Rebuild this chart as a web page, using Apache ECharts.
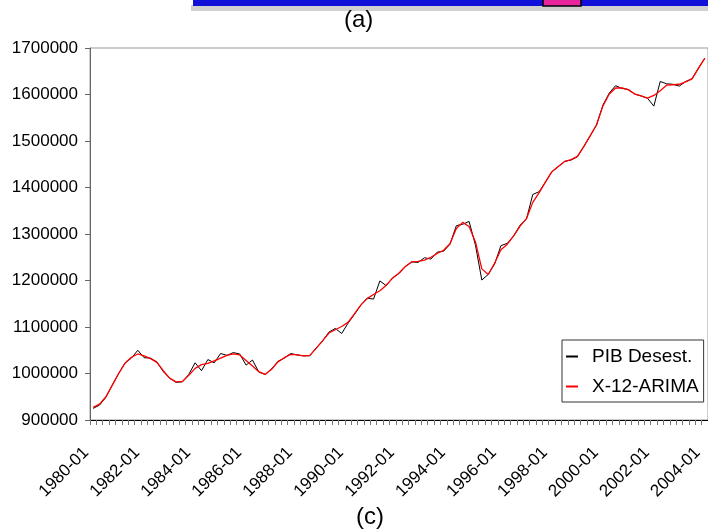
<!DOCTYPE html>
<html>
<head>
<meta charset="utf-8">
<script src="https://cdn.jsdelivr.net/npm/echarts@6/dist/echarts.min.js"></script>
<style>
  html, body { margin: 0; padding: 0; background: #fff; }
  #chart { width: 708px; height: 532px; }
</style>
</head>
<body>
<div id="chart"></div>
<script>
// Quarterly periods, 1980-01 .. 2004-01
const firstYear = 1980;
const lastYear = 2004;
const months = ['01', '04', '07', '10'];
const periods = [];
for (let y = firstYear; y <= lastYear; y++) {
  for (const m of months) {
    if (y === lastYear && m !== '01') break;
    periods.push(y + '-' + m);
  }
}

// Seasonally adjusted GDP (PIB desestacionalizado)
const pibDesest = [
  925000, 932000, 949000, 975000, 1000000, 1023000, 1033000, 1050000,
  1034000, 1033000, 1025000, 1004000, 990000, 981000, 982000, 998000,
  1023000, 1006000, 1030000, 1023000, 1043000, 1039000, 1045000, 1042000,
  1018000, 1029000, 1003000, 998000, 1010000, 1026000, 1033000, 1043000,
  1040000, 1038000, 1038000, 1055000, 1070000, 1089000, 1097000, 1086000,
  1108000, 1127000, 1147000, 1162000, 1160000, 1199000, 1189000, 1206000,
  1215000, 1230000, 1240000, 1239000, 1249000, 1246000, 1261000, 1263000,
  1278000, 1318000, 1321000, 1327000, 1276000, 1201000, 1213000, 1235000,
  1275000, 1280000, 1296000, 1319000, 1332000, 1385000, 1391000, 1412000,
  1434000, 1445000, 1456000, 1459000, 1466000, 1488000, 1511000, 1534000,
  1577000, 1603000, 1619000, 1613000, 1611000, 1601000, 1597000, 1592000,
  1575000, 1628000, 1623000, 1622000, 1618000, 1628000, 1633000, 1657000,
  1678000
];

// X-12-ARIMA trend-cycle
const x12Arima = [
  927000, 934000, 950000, 975000, 1000000, 1022000, 1035000, 1042000,
  1038000, 1032000, 1024000, 1006000, 990000, 982000, 983000, 996000,
  1011000, 1019000, 1022000, 1027000, 1033000, 1039000, 1042000, 1040000,
  1028000, 1016000, 1004000, 998000, 1009000, 1025000, 1034000, 1041000,
  1040000, 1038000, 1039000, 1054000, 1070000, 1087000, 1094000, 1101000,
  1110000, 1128000, 1147000, 1161000, 1170000, 1178000, 1190000, 1205000,
  1216000, 1230000, 1240000, 1241000, 1244000, 1250000, 1258000, 1265000,
  1279000, 1312000, 1325000, 1316000, 1283000, 1225000, 1213000, 1237000,
  1266000, 1278000, 1296000, 1317000, 1333000, 1368000, 1389000, 1412000,
  1434000, 1445000, 1456000, 1460000, 1467000, 1488000, 1511000, 1535000,
  1575000, 1601000, 1614000, 1614000, 1610000, 1601000, 1597000, 1592000,
  1598000, 1608000, 1620000, 1621000, 1622000, 1627000, 1634000, 1656000,
  1678000
];

const seriesNames = ['PIB Desest.', 'X-12-ARIMA'];
const yTicks = { min: 900000, max: 1700000, step: 100000 };

const FONT = '"Liberation Sans", Arial, sans-serif';
const chart = echarts.init(document.getElementById('chart'), null, { renderer: 'canvas' });

chart.setOption({
  animation: false,
  backgroundColor: '#ffffff',
  textStyle: { fontFamily: FONT },
  grid: {
    left: 90, top: 48, width: 620, height: 372,
    show: true, borderColor: '#999', borderWidth: 1, backgroundColor: 'transparent'
  },
  legend: {
    orient: 'vertical',
    left: 562, top: 340,
    padding: [7, 5, 6, 4],
    itemGap: 11,
    itemWidth: 12, itemHeight: 2,
    icon: 'rect',
    borderColor: '#333', borderWidth: 1,
    backgroundColor: '#fff',
    textStyle: { fontSize: 19, color: '#000', fontFamily: FONT, padding: [0, 0, 0, 9] },
    data: seriesNames
  },
  xAxis: {
    type: 'category',
    data: periods,
    boundaryGap: true,
    axisLine: { lineStyle: { color: '#000', width: 1 } },
    axisTick: { show: true, interval: 0, length: 5, lineStyle: { color: '#777' } },
    axisLabel: {
      interval: 7, rotate: 45, fontSize: 17, color: '#000', margin: 23,
      padding: [0, 10, 0, 0], fontFamily: FONT
    },
    splitLine: { show: false }
  },
  yAxis: {
    type: 'value',
    min: yTicks.min, max: yTicks.max, interval: yTicks.step,
    axisLine: { show: true, lineStyle: { color: '#666', width: 1 } },
    axisTick: { show: true, length: 5, lineStyle: { color: '#666' } },
    axisLabel: {
      fontSize: 17, color: '#000', margin: 12, fontFamily: FONT,
      formatter: (v) => String(v)
    },
    splitLine: { show: false }
  },
  series: [
    {
      name: seriesNames[0], type: 'line', data: pibDesest,
      showSymbol: false, symbol: 'none',
      lineStyle: { color: '#000', width: 1 }, itemStyle: { color: '#000' }
    },
    {
      name: seriesNames[1], type: 'line', data: x12Arima,
      showSymbol: false, symbol: 'none',
      lineStyle: { color: '#ff0000', width: 1.3 }, itemStyle: { color: '#ff0000' }
    }
  ],
  graphic: [
    // strip of the panel above: shadow, bar and marker
    { type: 'rect', shape: { x: 191, y: 5, width: 517, height: 6 }, style: { fill: '#d0d0d0' }, silent: true },
    { type: 'rect', shape: { x: 193, y: 0, width: 515, height: 6 }, style: { fill: '#1010d8' }, silent: true },
    { type: 'rect', shape: { x: 543, y: -2, width: 38, height: 8 }, style: { fill: '#e8259c', stroke: '#000', lineWidth: 1.5 }, silent: true },
    { type: 'text', left: 344, top: 8, style: { text: '(a)', fontSize: 24, fill: '#000', fontFamily: FONT } },
    { type: 'text', left: 356, top: 505, style: { text: '(c)', fontSize: 24, fill: '#000', fontFamily: FONT } }
  ]
});
</script>
</body>
</html>
